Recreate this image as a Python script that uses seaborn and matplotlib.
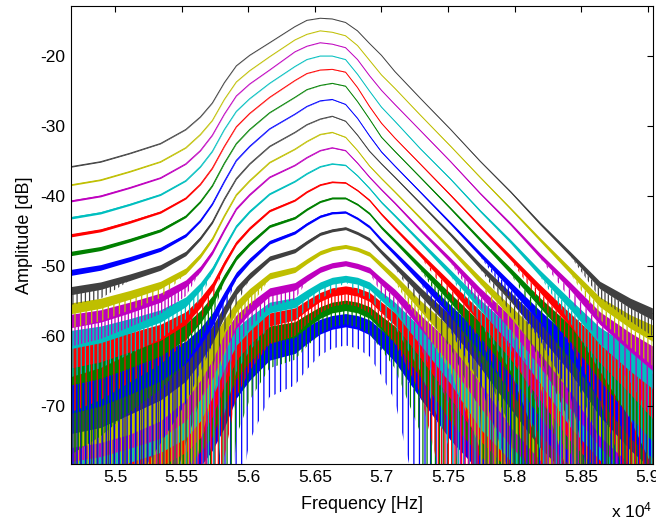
import numpy as np
import pandas as pd
import matplotlib
matplotlib.use("Agg")
import matplotlib.pyplot as plt
from matplotlib.ticker import FixedLocator, FuncFormatter
import seaborn as sns

# Frequency axis of the sweep traces (Hz)
freq_hz = [54670, 54890, 55110, 55340, 55530, 55640, 55730, 55820, 55910, 56010,
           56160, 56350, 56440, 56540, 56630, 56730, 56820, 56910, 57000, 57100,
           57290, 57520, 57740, 57970, 58190, 58420, 58640, 58870, 59035]

# Amplitude traces in dB, from the loudest (top) to the quietest (bottom)
trace_01 = [-35.8, -35.1, -33.9, -32.5, -30.5, -28.7, -26.7, -23.8, -21.4, -19.9, -18.1, -15.8, -14.9, -14.6, -14.7, -15.2, -16.4, -18.2, -19.9, -22.2, -26.0, -30.5, -35.0, -39.4, -43.9, -48.3, -52.7, -55.3, -56.8]
trace_02 = [-38.4, -37.7, -36.5, -35.1, -33.1, -31.2, -29.2, -26.2, -23.7, -22.1, -20.1, -17.7, -16.9, -16.4, -16.6, -17.1, -18.5, -20.6, -22.7, -24.6, -28.4, -32.9, -37.3, -41.8, -46.2, -50.7, -55.1, -57.9, -59.5]
trace_03 = [-40.7, -40.0, -38.8, -37.4, -35.4, -33.5, -31.3, -28.3, -25.7, -24.0, -22.0, -19.4, -18.6, -18.1, -18.3, -18.8, -20.5, -22.8, -24.9, -26.9, -30.6, -35.1, -39.6, -44.0, -48.5, -52.9, -57.4, -60.8, -63.0]
trace_04 = [-43.1, -42.4, -41.2, -39.8, -37.8, -35.8, -33.6, -30.5, -27.9, -26.1, -23.9, -21.5, -20.5, -20.0, -20.0, -20.5, -22.6, -25.0, -27.3, -29.3, -33.2, -37.6, -42.1, -46.5, -51.0, -55.5, -59.9, -63.1, -65.0]
trace_05 = [-45.6, -44.9, -43.7, -42.3, -40.3, -38.3, -36.0, -32.9, -30.1, -28.2, -25.9, -23.5, -22.5, -22.0, -21.9, -22.3, -24.5, -27.2, -29.6, -31.7, -35.4, -39.9, -44.3, -48.8, -53.2, -57.7, -62.1, -65.6, -68.0]
trace_06 = [-48.2, -47.5, -46.3, -44.9, -42.9, -40.8, -38.5, -35.3, -32.5, -30.5, -28.1, -25.9, -24.8, -24.2, -23.9, -24.3, -26.5, -29.0, -31.6, -33.6, -37.3, -41.8, -46.2, -50.7, -55.2, -59.6, -64.1, -67.9, -70.6]
trace_07 = [-50.9, -50.2, -49.0, -47.6, -45.6, -43.5, -41.1, -37.9, -34.9, -32.9, -30.4, -28.3, -27.2, -26.4, -26.2, -26.9, -28.9, -31.4, -33.7, -35.7, -39.4, -43.9, -48.3, -52.8, -57.2, -61.7, -66.2, -70.2, -73.0]
trace_08 = [-53.5, -52.8, -51.6, -50.2, -48.2, -46.0, -43.7, -40.4, -37.5, -35.4, -32.9, -30.9, -29.8, -29.0, -28.6, -29.3, -31.3, -33.6, -35.4, -37.3, -41.0, -45.5, -50.0, -54.4, -58.9, -63.3, -67.8, -71.9, -74.7]
trace_09 = [-56.0, -55.3, -54.1, -52.7, -50.7, -48.5, -46.1, -42.8, -39.8, -37.8, -35.2, -33.3, -32.2, -31.2, -30.9, -31.6, -33.5, -35.7, -37.5, -39.4, -43.1, -47.6, -52.0, -56.5, -61.0, -65.4, -69.9, -74.0, -77.0]
trace_10 = [-57.8, -57.1, -55.9, -54.5, -52.5, -50.4, -48.0, -44.8, -41.8, -39.8, -37.3, -35.6, -34.5, -33.5, -33.1, -33.5, -35.3, -37.3, -39.1, -41.0, -44.8, -49.2, -53.7, -58.1, -62.6, -67.1, -71.5, -75.7, -78.7]
trace_11 = [-60.4, -59.7, -58.5, -57.1, -55.1, -52.9, -50.5, -47.3, -44.3, -42.2, -39.7, -37.9, -36.8, -35.8, -35.4, -35.6, -37.1, -38.9, -40.9, -42.8, -46.5, -51.0, -55.5, -59.9, -64.4, -68.8, -73.3, -77.5, -80.5]
trace_12 = [-62.7, -62.0, -60.8, -59.4, -57.4, -55.2, -52.9, -49.6, -46.7, -44.6, -42.1, -40.6, -39.4, -38.4, -38.0, -38.1, -39.2, -40.6, -42.6, -44.6, -48.3, -52.8, -57.2, -61.7, -66.2, -70.6, -75.1, -79.5, -82.8]
trace_13 = [-64.6, -63.9, -62.7, -61.3, -59.3, -57.2, -54.9, -51.6, -48.8, -46.8, -44.3, -43.1, -41.9, -40.8, -40.3, -40.3, -41.2, -42.5, -44.5, -46.4, -50.1, -54.6, -59.0, -63.5, -67.9, -72.4, -76.9, -81.3, -84.6]
trace_14 = [-67.5, -66.8, -65.6, -64.2, -62.2, -60.0, -57.6, -54.3, -51.3, -49.2, -46.6, -45.2, -44.0, -42.9, -42.4, -42.3, -43.2, -44.4, -46.3, -48.2, -51.9, -56.4, -60.8, -65.3, -69.7, -74.2, -78.7, -83.1, -86.4]
trace_15 = [-69.5, -68.8, -67.6, -66.2, -64.2, -62.0, -59.7, -56.4, -53.5, -51.4, -48.9, -47.8, -46.6, -45.4, -44.9, -44.6, -45.3, -46.2, -48.0, -49.9, -53.6, -58.0, -62.6, -67.1, -71.5, -76.0, -80.4, -84.9, -88.2]
trace_16 = [-71.5, -70.8, -69.6, -68.2, -66.2, -64.1, -61.8, -58.6, -55.8, -53.8, -51.4, -50.5, -49.3, -48.1, -47.5, -47.2, -47.6, -48.3, -49.9, -51.7, -55.6, -60.0, -64.4, -68.8, -73.3, -77.8, -82.2, -86.7, -90.0]
trace_17 = [-73.5, -72.8, -71.6, -70.2, -68.2, -66.1, -63.9, -60.7, -57.9, -56.0, -53.7, -52.9, -51.7, -50.5, -49.9, -49.6, -50.0, -50.6, -52.2, -53.9, -57.9, -62.4, -66.9, -71.3, -75.8, -80.3, -84.7, -89.2, -92.5]
trace_18 = [-75.5, -74.8, -73.6, -72.2, -70.2, -68.2, -65.9, -62.8, -60.0, -58.2, -55.9, -55.2, -54.0, -52.8, -52.1, -51.8, -52.1, -52.8, -54.3, -55.9, -59.9, -64.5, -68.9, -73.4, -77.9, -82.3, -86.8, -91.3, -94.5]
trace_19 = [-77.5, -76.8, -75.6, -74.2, -72.2, -70.1, -67.8, -64.7, -61.8, -59.9, -57.6, -56.8, -55.6, -54.4, -53.7, -53.4, -53.7, -54.4, -55.9, -57.5, -61.5, -66.1, -70.5, -75.0, -79.5, -83.9, -88.4, -92.9, -96.1]
trace_20 = [-79.5, -78.8, -77.6, -76.2, -74.2, -72.1, -69.9, -66.7, -63.9, -62.0, -59.7, -59.0, -57.8, -56.6, -55.9, -55.6, -55.9, -56.6, -58.1, -59.7, -63.7, -68.3, -72.7, -77.2, -81.7, -86.1, -90.6, -95.1, -98.3]
trace_21 = [-81.5, -80.8, -79.6, -78.2, -76.2, -74.2, -71.9, -68.8, -66.0, -64.1, -61.8, -61.0, -59.8, -58.6, -58.0, -57.7, -58.0, -58.7, -60.3, -62.0, -66.0, -70.5, -75.0, -79.4, -83.9, -88.4, -92.8, -97.3, -100.6]

traces = [trace_01, trace_02, trace_03, trace_04, trace_05, trace_06, trace_07,
          trace_08, trace_09, trace_10, trace_11, trace_12, trace_13, trace_14,
          trace_15, trace_16, trace_17, trace_18, trace_19, trace_20, trace_21]
trace_names = [f"Trace {i + 1}" for i in range(len(traces))]

# Classic colour cycle, repeating from the top trace downwards
color_cycle = ["#404040", "#bfbf00", "#bf00bf", "#00bfbf", "#ff0000", "#008000", "#0000ff"]
trace_colors = [color_cycle[i % len(color_cycle)] for i in range(len(traces))]

x_ticks_hz = [55000, 55500, 56000, 56500, 57000, 57500, 58000, 58500, 59000]
y_ticks_db = [-70, -60, -50, -40, -30, -20]

# Broadband measurement noise that roughens the quieter traces
noise_floor_db = -77.0
dip_floor_db = -67.0

df = pd.DataFrame(
    [(name, f, v) for name, tr in zip(trace_names, traces) for f, v in zip(freq_hz, tr)],
    columns=["trace", "freq", "level"],
)

sns.set_theme(style="white")
plt.rcParams["font.family"] = ["Liberation Sans", "DejaVu Sans"]
plt.rcParams["mathtext.default"] = "regular"
plt.rcParams["axes.unicode_minus"] = False
plt.rcParams["hatch.linewidth"] = 0.9

fig = plt.figure(figsize=(6.56, 5.2), dpi=100)
ax = fig.add_axes([71 / 656, 56 / 520, (652.5 - 71) / 656, (464 - 6) / 520])

# quietest trace first so louder traces lie on top
draw_order = list(range(len(traces)))[::-1]
sns.lineplot(
    data=df, x="freq", y="level", hue="trace",
    hue_order=[trace_names[i] for i in draw_order],
    palette=dict(zip(trace_names, trace_colors)),
    estimator=None, sort=False, legend=False, linewidth=0.7, ax=ax,
)

f = np.asarray(freq_hz, dtype=float)
for line in ax.get_lines():
    y = np.asarray(line.get_ydata(), dtype=float)
    i = next(j for j, tr in enumerate(traces) if np.allclose(tr, y))
    k = draw_order.index(i)
    base = 1.0 + 0.03 * k
    v = np.asarray(traces[i], dtype=float)
    c = trace_colors[i]
    line.set_zorder(base + 0.02)

    # noise band around the trace
    r_core = 10 ** ((noise_floor_db - v) / 20)
    hi = v + 20 * np.log10(1 + r_core)
    lo = v + 20 * np.log10(1 - np.minimum(r_core, 0.4))
    ax.fill_between(f, lo, hi, color=c, lw=0, zorder=base)

    # deep dips where the noise cancels the signal, only where they clear the band
    r_dip = 10 ** ((dip_floor_db - v) / 20)
    lo_dip = v + 20 * np.log10(np.clip(1 - r_dip, 1e-4, None))
    lo_dip = np.where(lo - lo_dip > 1.2, lo_dip, lo)
    if np.any(lo_dip < lo):
        ax.fill_between(f, lo_dip, lo, facecolor="none", edgecolor=c,
                        hatch="|" * (3 + k % 3), lw=0, zorder=base + 0.01)

ax.set_xlim(54668, 59036)
ax.set_ylim(-78.3, -12.85)
ax.xaxis.set_major_locator(FixedLocator(x_ticks_hz))
ax.xaxis.set_major_formatter(FuncFormatter(lambda val, pos: f"{val / 1e4:g}"))
ax.yaxis.set_major_locator(FixedLocator(y_ticks_db))
ax.set_axisbelow(False)
ax.tick_params(direction="in", length=4.5, width=0.8, top=True, right=True,
               labelsize=12.5, pad=4, color="black", labelcolor="black")
for s in ax.spines.values():
    s.set_color("black")
    s.set_linewidth(0.8)
    s.set_zorder(3)

ax.set_xlabel("Frequency [Hz]", fontsize=13, labelpad=8, color="black")
ax.set_ylabel("Amplitude [dB]", fontsize=13, labelpad=5, color="black")
fig.text(652 / 656, 3 / 520, r"x 10$^{4}$", ha="right", va="baseline",
         fontsize=12.5, color="black")

fig.savefig("out.png", dpi=100)
